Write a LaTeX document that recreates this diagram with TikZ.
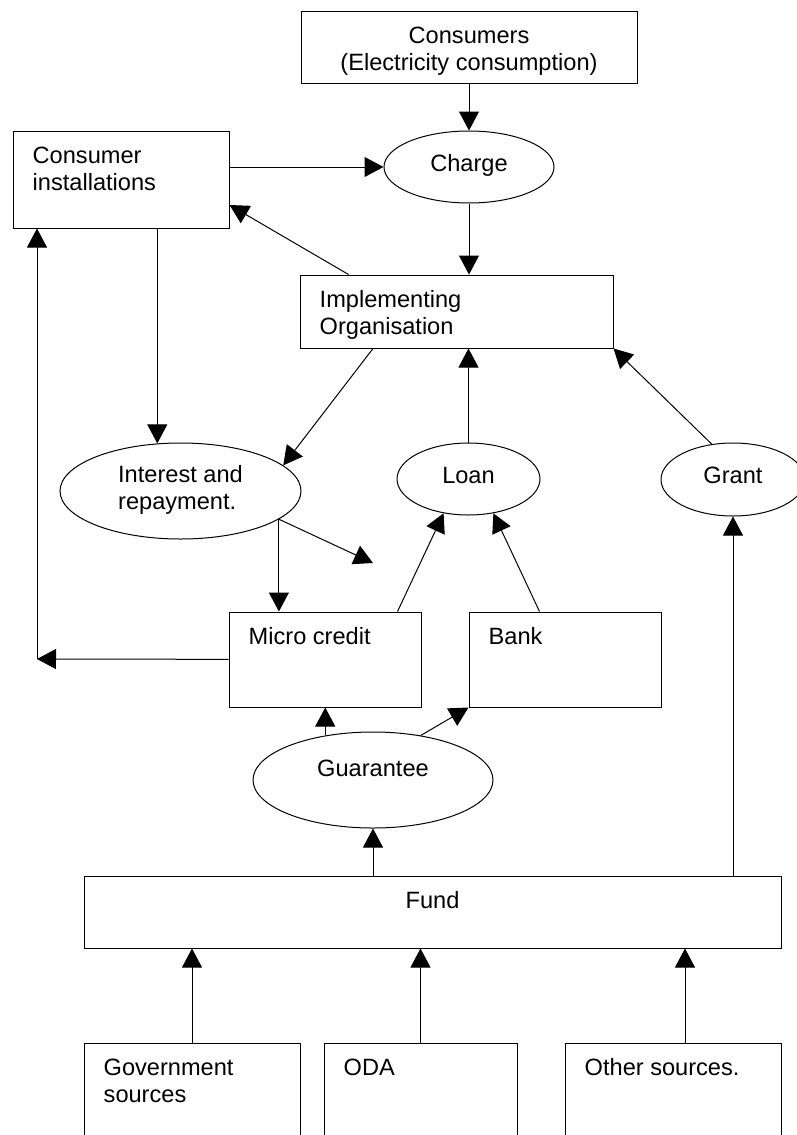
\documentclass[tikz,border=0pt]{standalone}
\usepackage{fontspec}
\setmainfont{Liberation Sans}
\usepackage{tikz}
\usetikzlibrary{shapes.geometric, arrows.meta}

\begin{document}
\begin{tikzpicture}[x=1pt, y=-1pt,
    font=\fontsize{23.6}{27}\selectfont,
    box/.style={draw, line width=1pt, inner sep=0pt},
    oval/.style={draw, ellipse, line width=1pt, inner sep=0pt, text depth=8pt, align=left},
    lbl/.style={anchor=north west, inner sep=0pt, xshift=20pt, yshift=-16pt, align=left},
    ctr/.style={anchor=north, inner sep=0pt, yshift=-16pt, align=center},
    arrow/.style={-{Triangle[length=19pt, width=20pt]}, line width=1pt}
]
    \useasboundingbox (0,0) rectangle (797,1135);
    \clip (0,0) rectangle (797,1135);

    % top part
    \node[box, minimum width=336pt, minimum height=72pt, label={[ctr]north:Consumers\\(Electricity consumption)}] at (469,47) (cons) {};
    \node[oval, minimum width=170pt, minimum height=72pt] at (469,167) (charge) {Charge};
    \node[box, minimum width=216pt, minimum height=97pt, label={[lbl]north west:Consumer\\installations}] at (121,179.5) (inst) {};
    \node[box, minimum width=313pt, minimum height=73pt, label={[lbl]north west:Implementing\\Organisation}] at (456.5,311.5) (impl) {};

    % middle part
    \node[oval, minimum width=241pt, minimum height=96pt] at (180.5,491) (intr) {Interest and\\repayment.};
    \node[oval, minimum width=143pt, minimum height=72pt] at (468.5,479) (loan) {Loan};
    \node[oval, minimum width=144pt, minimum height=73pt] at (733,479.5) (grant) {Grant};
    \node[box, minimum width=192pt, minimum height=95pt, label={[lbl]north west:Micro credit}] at (325,659.5) (mc) {};
    \node[box, minimum width=192pt, minimum height=95pt, label={[lbl]north west:Bank}] at (565,659.5) (bank) {};
    \node[oval, minimum width=240pt, minimum height=96pt, text depth=23pt] at (373,780) (guar) {Guarantee};

    % fund and sources
    \node[box, minimum width=697pt, minimum height=72pt, label={[ctr]north:Fund}] at (432.5,912) (fund) {};
    \node[box, minimum width=216pt, minimum height=120pt, label={[lbl]north west:Government\\sources}] at (192,1103) (gov) {};
    \node[box, minimum width=193pt, minimum height=120pt, label={[lbl]north west:ODA}] at (420.5,1103) (oda) {};
    \node[box, minimum width=216pt, minimum height=120pt, label={[lbl]north west:Other sources.}] at (673,1103) (oth) {};

    \coordinate (back) at (37,659);
    \coordinate (stray) at (373,563);

    \draw[arrow] (cons) -- (charge);
    \draw[arrow] (inst.east |- charge) -- (charge.west);
    \draw[arrow] (charge) -- (charge |- impl.north);
    \draw[arrow] ([xshift=49pt]impl.north west) -- ([yshift=-25.5pt]inst.east);
    \draw[arrow] (intr.116 |- inst.south) -- (intr.116);
    \draw[arrow] ([xshift=-83.5pt]impl.south) -- (intr.14);
    \draw[arrow] (loan) -- (loan |- impl.south);
    \draw[arrow] (grant.121) -- (impl.south east);
    \draw[arrow] (grant |- fund.north) -- (grant);

    \draw[arrow] (intr.-16) -- (intr.-16 |- mc.north);
    \draw[arrow] (intr.-16) -- (stray);
    \draw[arrow] ([xshift=-24pt]mc.north east) -- (loan.-126);
    \draw[arrow] ([xshift=71pt]bank.north west) -- (loan.-54);
    \draw[arrow] (mc) -- (back);
    \draw[arrow] (back) -- (back |- inst.south);

    \draw[arrow] (guar.137) -- (guar.137 |- mc.south);
    \draw[arrow] (guar.43) -- (bank.south west);
    \draw[arrow] (guar |- fund.north) -- (guar);

    \draw[arrow] (gov) -- (gov |- fund.south);
    \draw[arrow] (oda) -- (oda |- fund.south);
    \draw[arrow] ([xshift=12pt]oth.north) -- ([xshift=12pt]oth.north |- fund.south);
\end{tikzpicture}
\end{document}
